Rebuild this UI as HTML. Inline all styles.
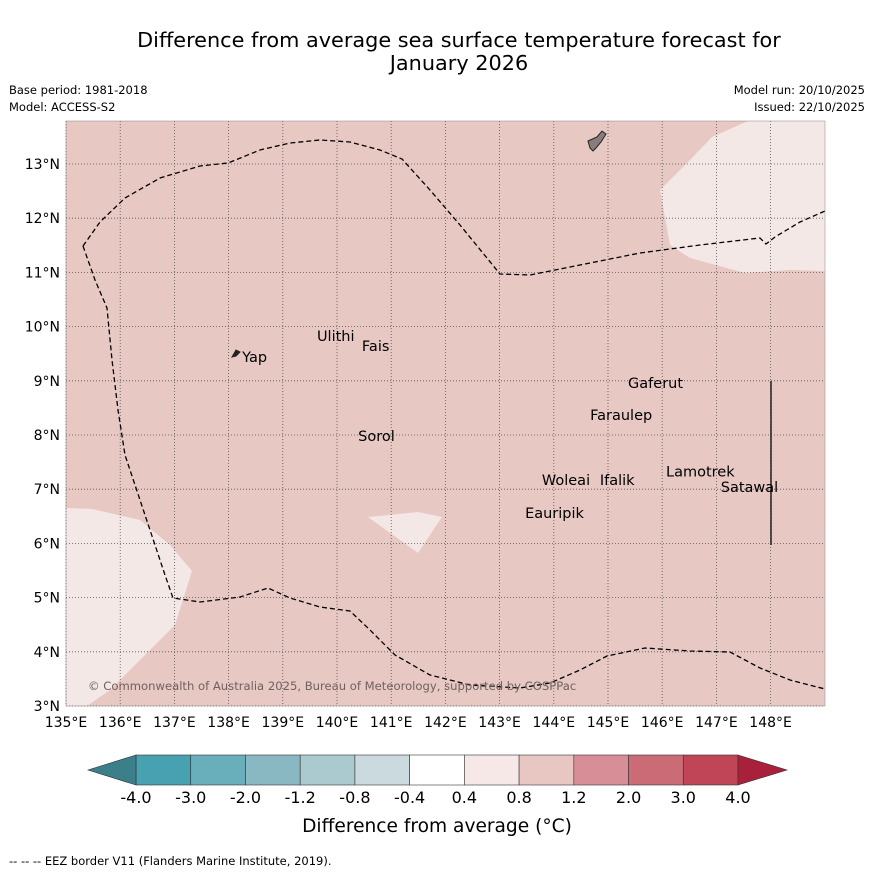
<!DOCTYPE html>
<html><head><meta charset="utf-8">
<style>
html,body{margin:0;padding:0;background:#fff;}
svg{display:block;font-family:"DejaVu Sans","Liberation Sans",sans-serif;}
</style></head>
<body>
<svg id="chart" width="873" height="873" viewBox="0 0 873 873" xmlns="http://www.w3.org/2000/svg">
<rect width="873" height="873" fill="#fff"/>
<text x="459" y="47" font-size="20.8" text-anchor="middle">Difference from average sea surface temperature forecast for</text>
<text x="459" y="70" font-size="20.8" text-anchor="middle">January 2026</text>
<text x="9" y="94" font-size="11.5">Base period: 1981-2018</text>
<text x="9" y="111" font-size="11.5">Model: ACCESS-S2</text>
<text x="865" y="94" font-size="11.5" text-anchor="end">Model run: 20/10/2025</text>
<text x="865" y="111" font-size="11.5" text-anchor="end">Issued: 22/10/2025</text>
<g id="map"></g>
<g id="cbar"></g>
<text x="437" y="832" font-size="18.6" text-anchor="middle">Difference from average (°C)</text>
<text x="9" y="865" font-size="11.5">--  --  -- EEZ border V11 (Flanders Marine Institute, 2019).</text>
</svg>
<script>
const lonTicks=[135,136,137,138,139,140,141,142,143,144,145,146,147,148];
const latTicks=[3,4,5,6,7,8,9,10,11,12,13];
const cbBounds=["-4.0","-3.0","-2.0","-1.2","-0.8","-0.4","0.4","0.8","1.2","2.0","3.0","4.0"];
const cbColors=["#47a1b1","#69aebb","#89b8c3","#aacacf","#cadadf","#ffffff","#f5e8e6","#e8c7c2","#d88e96","#cb6b76","#c04557"];
const islandNames=["Ulithi","Fais","Yap","Gaferut","Faraulep","Sorol","Woleai","Ifalik","Lamotrek","Satawal","Eauripik"];
const islandLon=[139.63,140.46,138.25,145.37,144.67,140.39,143.78,144.85,146.07,147.08,143.47];
const islandLat=[9.73,9.55,9.35,8.87,8.28,7.89,7.08,7.08,7.23,6.95,6.47];
const NS="http://www.w3.org/2000/svg";
const X0=66,X1=825,Y0=121,Y1=706,dd=54.2;
const xs=lon=>X0+(lon-135)*dd;
const ys=lat=>Y1-(lat-3)*dd;
function mk(tag,attrs,parent){const e=document.createElementNS(NS,tag);for(const k in attrs)e.setAttribute(k,attrs[k]);parent.appendChild(e);return e;}
const map=document.getElementById('map');
let r=mk('rect',{x:X0,y:Y0,width:X1-X0,height:Y1-Y0,fill:'#e7c8c3'},map);


const pale=[
"748,121 712,137 690,160 660,190 670,245 690,258 745,273 790,270 825,271 825,121",
"66,508 92,509 140,520 170,545 192,571 175,625 145,655 110,690 87,706 66,706",
"368,517 418,512 442,517 418,553"];
pale.forEach((p,i)=>{const e=mk('polygon',{points:p,fill:'#f4e8e6'},map);

});
lonTicks.forEach(l=>{const x=xs(l);
const g=mk('line',{x1:x,x2:x,y1:Y0,y2:Y1,stroke:'#555',"stroke-width":0.8,"stroke-dasharray":"1,2"},map);


const t=mk('text',{x:x,y:727,"font-size":14,"text-anchor":"middle"},map);t.textContent=l+"°E";

});
latTicks.forEach(l=>{const y=ys(l);
const g=mk('line',{x1:X0,x2:X1,y1:y,y2:y,stroke:'#555',"stroke-width":0.8,"stroke-dasharray":"1,2"},map);


const t=mk('text',{x:60,y:y+5,"font-size":14,"text-anchor":"end"},map);t.textContent=l+"°N";

});
const eez1="83,246 100,222 125,198 160,178 200,166 228,163 260,150 290,143 320,140 350,142 380,150 402,159 430,190 460,225 500,274 530,275 580,265 640,253 700,245 760,238 766,244 775,237 800,222 825,211";
const eez2="83,246 95,280 107,308 112,360 118,410 125,455 140,500 155,545 165,575 173,598 200,602 240,597 268,588 290,598 320,607 350,611 370,630 395,655 430,675 470,685 520,688 550,683 580,670 607,656 645,648 690,651 730,652 760,668 790,680 825,689";
[eez1,eez2].forEach((p,i)=>{const e=mk('polyline',{points:p,fill:'none',stroke:'#000',"stroke-width":1.3,"stroke-dasharray":"5,3"},map);

});
let v=mk('line',{x1:771,x2:771,y1:381,y2:545,stroke:'#222',"stroke-width":1.5},map);


let gu=mk('path',{d:"M588,141 L597,137 L602,131 L606,134 L601,142 L596,148 L593,151 L590,148 Z",fill:'#8a7c7c',stroke:'#222',"stroke-width":1},map);


let yp=mk('path',{d:"M232,357 L236,350 L240,352 L236,356 Z",fill:'#222',stroke:'#222',"stroke-width":1},map);


islandNames.forEach((n,i)=>{const x=xs(islandLon[i]),y=ys(islandLat[i]);
const t=mk('text',{x:x,y:y,"font-size":14.5},map);t.textContent=n;

});
let cp=mk('text',{x:88,y:690,"font-size":11.6,fill:'#6e6260'},map);cp.textContent="© Commonwealth of Australia 2025, Bureau of Meteorology, supported by COSPPac";


let fr=mk('rect',{x:X0,y:Y0,width:X1-X0,height:Y1-Y0,fill:'none',stroke:'#888',"stroke-width":0.5},map);


const cb=document.getElementById('cbar');
const CB0=136,CB1=738,CY0=755,CY1=785,n=cbColors.length,w=(CB1-CB0)/n;
cbColors.forEach((c,i)=>{const e=mk('rect',{x:CB0+i*w,y:CY0,width:w,height:CY1-CY0,fill:c,stroke:'#333',"stroke-width":0.6},cb);

});
let lt=mk('polygon',{points:`${CB0},${CY0} 88,770 ${CB0},${CY1}`,fill:'#3a7f8a',stroke:'#333',"stroke-width":0.6},cb);


let rt=mk('polygon',{points:`${CB1},${CY0} 787,770 ${CB1},${CY1}`,fill:'#a9203b',stroke:'#333',"stroke-width":0.6},cb);


cbBounds.forEach((b,i)=>{const t=mk('text',{x:CB0+i*w,y:803,"font-size":16,"text-anchor":"middle"},cb);t.textContent=b;

});
</script>
</body></html>
